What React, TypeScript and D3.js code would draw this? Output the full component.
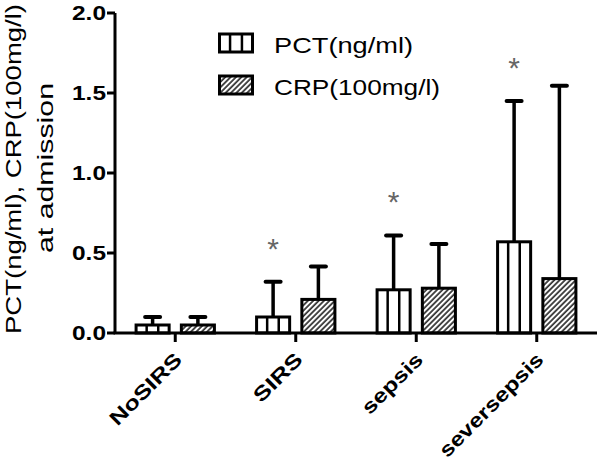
import React from "react";
import * as d3 from "d3";

const categories = ["NoSIRS", "SIRS", "sepsis", "seversepsis"];
const series = ["PCT", "CRP"];
const pctMean = [0.05, 0.1, 0.27, 0.57];
const pctUpper = [0.1, 0.32, 0.61, 1.45];
const crpMean = [0.05, 0.21, 0.28, 0.34];
const crpUpper = [0.1, 0.415, 0.556, 1.545];
const significant = [false, true, true, true];
const yTicks = [0, 0.5, 1.0, 1.5, 2.0];
const legendLabels = ["PCT(ng/ml)", "CRP(100mg/l)"];
const yTitle = ["PCT(ng/ml), CRP(100mg/l)", "at admission"];

const W = 600;
const H = 465;
const FONT = "'Liberation Sans', Arial, sans-serif";

export default function App() {
  const left = 115;
  const right = 597;
  const y = d3.scaleLinear().domain([0, 2]).range([333, 13]);
  const x0 = d3
    .scaleBand<string>()
    .domain(categories)
    .range([left, right])
    .paddingInner(0.35)
    .paddingOuter(0.175);
  const x1 = d3
    .scaleBand<string>()
    .domain(series)
    .range([0, x0.bandwidth()])
    .paddingInner(0.27);
  const xTick = d3.scalePoint<string>().domain(categories).range([left, right]).padding(0.5);

  const bw = x1.bandwidth();
  const labelLengths = [93, 60, 77, 138];

  const bars = categories.flatMap((c, i) => [
    { c, i, s: "PCT", mean: pctMean[i], upper: pctUpper[i] },
    { c, i, s: "CRP", mean: crpMean[i], upper: crpUpper[i] },
  ]);

  return (
    <svg
      width={W}
      height={H}
      style={{ position: "absolute", left: 0, top: 0, background: "#fff" }}
      fontFamily={FONT}
    >
      <defs>
        <pattern
          id="hatch"
          patternUnits="userSpaceOnUse"
          width={3.8}
          height={3.8}
          patternTransform="rotate(45)"
        >
          <rect width={3.8} height={3.8} fill="#fff" />
          <line x1={1} y1={0} x2={1} y2={3.8} stroke="#000" strokeWidth={1.4} />
        </pattern>
      </defs>
      <rect width={W} height={H} fill="#fff" />

      {/* bars */}
      {bars.map((b, k) => {
        const bx = (x0(b.c) as number) + (x1(b.s) as number);
        const top = y(b.mean);
        const base = y(0);
        const cx = bx + bw / 2;
        return (
          <g key={k}>
            <line x1={cx} x2={cx} y1={top} y2={y(b.upper)} stroke="#000" strokeWidth={3.5} />
            <line
              x1={cx - 7.5}
              x2={cx + 7.5}
              y1={y(b.upper)}
              y2={y(b.upper)}
              stroke="#000"
              strokeWidth={4}
              strokeLinecap="round"
            />
            <rect
              x={bx}
              y={top}
              width={bw}
              height={base - top}
              fill={b.s === "PCT" ? "#fff" : "url(#hatch)"}
              stroke="#000"
              strokeWidth={3}
            />
            {b.s === "PCT" &&
              [0.32, 0.67].map((f, j) => (
                <line
                  key={j}
                  x1={bx + bw * f}
                  x2={bx + bw * f}
                  y1={top}
                  y2={base}
                  stroke="#000"
                  strokeWidth={2.5}
                />
              ))}
          </g>
        );
      })}

      {/* significance asterisks */}
      {categories.map((c, i) =>
        significant[i] ? (
          <text
            key={c}
            x={(x0(c) as number) + (x1("PCT") as number) + bw / 2}
            y={y(pctUpper[i] + 0.25) + 17}
            textAnchor="middle"
            fontSize={30}
            fill="#666"
          >
            *
          </text>
        ) : null
      )}

      {/* axes */}
      <line x1={left} x2={left} y1={y(2)} y2={y(0)} stroke="#000" strokeWidth={3} />
      <line x1={left - 1.5} x2={right} y1={y(0)} y2={y(0)} stroke="#000" strokeWidth={3} />
      {yTicks.map((t) => (
        <g key={t}>
          <line x1={left - 8} x2={left} y1={y(t)} y2={y(t)} stroke="#000" strokeWidth={3} />
          <text
            x={106}
            y={y(t) + 7}
            textAnchor="end"
            fontSize={19.5}
            fontWeight="bold"
            textLength={34}
            lengthAdjust="spacingAndGlyphs"
          >
            {d3.format(".1f")(t)}
          </text>
        </g>
      ))}
      {categories.map((c, i) => {
        const tx = xTick(c) as number;
        return (
          <g key={c}>
            <line x1={tx} x2={tx} y1={y(0)} y2={y(0) + 9} stroke="#000" strokeWidth={3} />
            <text
              transform={`translate(${tx + 8},${361}) rotate(-45)`}
              textAnchor="end"
              fontSize={20}
              fontWeight="bold"
              textLength={labelLengths[i]}
              lengthAdjust="spacingAndGlyphs"
            >
              {c}
            </text>
          </g>
        );
      })}

      {/* y title */}
      <text
        transform={`translate(21,169) rotate(-90)`}
        textAnchor="middle"
        fontSize={22}
        textLength={330}
        lengthAdjust="spacingAndGlyphs"
      >
        {yTitle[0]}
      </text>
      <text
        transform={`translate(53,168) rotate(-90)`}
        textAnchor="middle"
        fontSize={22}
        textLength={170}
        lengthAdjust="spacingAndGlyphs"
      >
        {yTitle[1]}
      </text>

      {/* legend */}
      {series.map((s, i) => {
        const ly = 34 + i * 42;
        return (
          <g key={s}>
            <rect
              x={219.5}
              y={ly}
              width={33}
              height={18}
              fill={s === "PCT" ? "#fff" : "url(#hatch)"}
              stroke="#000"
              strokeWidth={3}
            />
            {s === "PCT" &&
              [0.32, 0.68].map((f, j) => (
                <line
                  key={j}
                  x1={219.5 + 33 * f}
                  x2={219.5 + 33 * f}
                  y1={ly}
                  y2={ly + 18}
                  stroke="#000"
                  strokeWidth={2.5}
                />
              ))}
            <text
              x={274}
              y={ly + 19}
              fontSize={22}
              textLength={i === 0 ? 139 : 166}
              lengthAdjust="spacingAndGlyphs"
            >
              {legendLabels[i]}
            </text>
          </g>
        );
      })}
    </svg>
  );
}
